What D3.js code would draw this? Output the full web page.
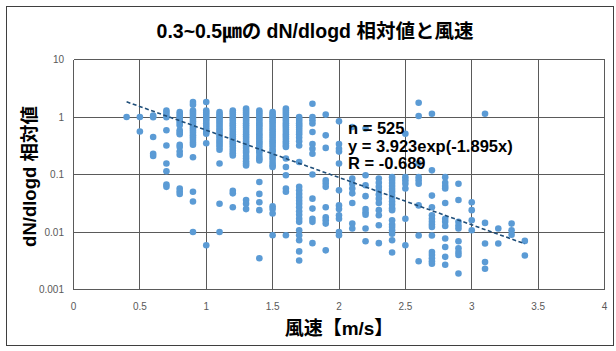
<!DOCTYPE html>
<html>
<head>
<meta charset="utf-8">
<script src="https://cdn.jsdelivr.net/npm/d3@7"></script>
<style>
  body { margin: 0; background: #fff; }
  text { font-family: "Liberation Sans", "Noto Sans CJK JP", sans-serif; }
  .grid line { stroke: #5a5a5a; stroke-width: 1; shape-rendering: crispEdges; }
  .tick-label { font-size: 10px; fill: #595959; }
</style>
</head>
<body>
<svg width="616" height="351"></svg>
<script>
// wind speed classes (m/s)
const speeds = [0.4, 0.5, 0.6, 0.7, 0.8, 0.9, 1.0, 1.1, 1.2, 1.3, 1.4, 1.5, 1.6, 1.7, 1.8, 1.9,
  2.0, 2.1, 2.2, 2.3, 2.4, 2.5, 2.6, 2.7, 2.8, 2.9, 3.0, 3.1, 3.2, 3.3, 3.4];

const relValues = [
  [1.0],
  [1.0, 0.56],
  [1.06, 0.99, 0.45, 0.23, 0.21],
  [1.3, 1.2, 1.08, 0.99, 0.59, 0.32, 0.155, 0.114, 0.067, 0.061],
  [1.22, 1.12, 1.02, 0.94, 0.86, 0.79, 0.72, 0.59, 0.54, 0.5, 0.33, 0.3, 0.25, 0.22, 0.057, 0.051, 0.046],
  [1.82, 1.64, 1.3, 1.2, 1.1, 1.0, 0.92, 0.84, 0.77, 0.7, 0.64, 0.58, 0.53, 0.48, 0.44, 0.4, 0.36, 0.33, 0.2, 0.05, 0.034, 0.01],
  [1.82, 1.3, 1.2, 1.1, 1.0, 0.92, 0.85, 0.78, 0.71, 0.65, 0.6, 0.55, 0.51, 0.35, 0.0059],
  [1.22, 1.12, 1.03, 0.95, 0.87, 0.8, 0.73, 0.67, 0.61, 0.56, 0.51, 0.47, 0.43, 0.39, 0.36, 0.33, 0.3, 0.27, 0.155, 0.031, 0.01],
  [1.3, 1.2, 1.1, 1.0, 0.92, 0.85, 0.78, 0.72, 0.66, 0.6, 0.55, 0.5, 0.46, 0.42, 0.38, 0.35, 0.32, 0.29, 0.26, 0.235, 0.215, 0.052, 0.047, 0.027],
  [1.4, 1.3, 1.2, 1.1, 1.0, 0.92, 0.85, 0.78, 0.72, 0.66, 0.6, 0.55, 0.5, 0.46, 0.42, 0.38, 0.35, 0.32, 0.29, 0.26, 0.24, 0.21, 0.19, 0.17, 0.155, 0.144, 0.036, 0.031, 0.025],
  [1.3, 1.2, 1.1, 1.0, 0.92, 0.85, 0.78, 0.72, 0.66, 0.6, 0.55, 0.5, 0.46, 0.42, 0.38, 0.35, 0.32, 0.29, 0.26, 0.24, 0.21, 0.19, 0.176, 0.074, 0.046, 0.033, 0.024, 0.0035],
  [1.22, 1.12, 1.03, 0.95, 0.87, 0.8, 0.73, 0.67, 0.61, 0.56, 0.51, 0.47, 0.43, 0.39, 0.36, 0.33, 0.3, 0.27, 0.25, 0.22, 0.2, 0.18, 0.16, 0.145, 0.135, 0.028, 0.025, 0.021, 0.0088],
  [1.4, 1.3, 1.2, 1.1, 1.0, 0.92, 0.85, 0.78, 0.72, 0.66, 0.6, 0.55, 0.5, 0.46, 0.42, 0.38, 0.35, 0.32, 0.3, 0.19, 0.135, 0.097, 0.057, 0.05, 0.0088],
  [1.0, 0.92, 0.85, 0.78, 0.72, 0.66, 0.6, 0.55, 0.5, 0.44, 0.38, 0.32, 0.165, 0.061, 0.053, 0.046, 0.04, 0.035, 0.031, 0.027, 0.023, 0.02, 0.017, 0.015, 0.0107, 0.0088, 0.0072, 0.0046, 0.0032],
  [1.7, 1.0, 0.88, 0.77, 0.55, 0.34, 0.28, 0.23, 0.1, 0.038, 0.0255, 0.017, 0.015, 0.0064],
  [1.1, 0.48, 0.29, 0.079, 0.07, 0.061, 0.027, 0.018, 0.016, 0.014, 0.0048],
  [0.84, 0.34, 0.28, 0.25, 0.155, 0.053, 0.029, 0.025, 0.0195, 0.017, 0.01, 0.0088],
  [0.67, 0.085, 0.069, 0.057, 0.047, 0.032, 0.014, 0.0115],
  [0.63, 0.097, 0.065, 0.042, 0.025, 0.022, 0.02, 0.0115, 0.0069],
  [0.085, 0.072, 0.061, 0.053, 0.045, 0.038, 0.032, 0.024, 0.0195, 0.0131, 0.0064],
  [0.09, 0.08, 0.071, 0.063, 0.056, 0.05, 0.044, 0.039, 0.034, 0.03, 0.026, 0.024, 0.016, 0.0135, 0.0122, 0.0107, 0.0093, 0.0072, 0.0044],
  [0.51, 0.09, 0.079, 0.069, 0.057, 0.017, 0.0059],
  [1.77, 1.04, 0.155, 0.09, 0.079, 0.069, 0.029, 0.0087, 0.0031],
  [1.14, 0.118, 0.043, 0.027, 0.0195, 0.017, 0.015, 0.0135, 0.0122, 0.0087, 0.0045, 0.004, 0.0035, 0.0031, 0.0028],
  [0.09, 0.072, 0.063, 0.057, 0.032, 0.017, 0.015, 0.0127, 0.0077, 0.0055, 0.0037, 0.0027],
  [0.069, 0.036, 0.015, 0.013, 0.0115, 0.0069, 0.0052, 0.0045, 0.004, 0.0019],
  [0.033, 0.024, 0.016, 0.0107],
  [1.14, 0.0144, 0.0063, 0.003, 0.0023],
  [0.0115, 0.0063],
  [0.014, 0.0107, 0.009],
  [0.007, 0.0039]
];

const xTicks = [0, 0.5, 1, 1.5, 2, 2.5, 3, 3.5, 4];
const yTicks = [0.001, 0.01, 0.1, 1, 10];
const yTickLabels = ["0.001", "0.01", "0.1", "1", "10"];

// exponential fit shown on the chart
const fitA = 3.923, fitB = -1.895;
const fitRange = [0.4, 3.4];
const statLines = ["n = 525", "y = 3.923exp(-1.895x)", "R = -0.689"];

const svg = d3.select("svg");

svg.append("rect")
    .attr("x", 6.5).attr("y", 6.5)
    .attr("width", 607).attr("height", 339)
    .attr("fill", "#fff").attr("stroke", "#3f3f3f").attr("stroke-width", 1);

const x = d3.scaleLinear().domain([0, 4]).range([73.5, 604.5]);
const y = d3.scaleLog().domain([0.001, 10]).range([289.5, 59.5]);

// grid
const grid = svg.append("g").attr("class", "grid");
grid.selectAll(".v").data(xTicks).enter().append("line")
    .attr("x1", d => x(d)).attr("x2", d => x(d))
    .attr("y1", y(10)).attr("y2", y(0.001));
grid.selectAll(".h").data(yTicks).enter().append("line")
    .attr("x1", x(0)).attr("x2", x(4))
    .attr("y1", d => y(d)).attr("y2", d => y(d));

// tick labels
svg.selectAll(".xl").data(xTicks).enter().append("text")
    .attr("class", "tick-label")
    .attr("x", d => x(d)).attr("y", 310)
    .attr("text-anchor", "middle")
    .text(d => d);
svg.selectAll(".yl").data(yTicks).enter().append("text")
    .attr("class", "tick-label")
    .attr("x", 64).attr("y", d => y(d) + 3.5)
    .attr("text-anchor", "end")
    .text((d, i) => yTickLabels[i]);

// points
const points = [];
speeds.forEach((s, i) => relValues[i].forEach(v => points.push({s: s, v: v})));
svg.append("g").selectAll("circle").data(points).enter().append("circle")
    .attr("cx", d => x(d.s)).attr("cy", d => y(d.v))
    .attr("r", 3.3)
    .attr("fill", "#5b9bd5");

// trend line
const line = d3.line().x(d => x(d)).y(d => y(fitA * Math.exp(fitB * d)));
svg.append("path")
    .datum(fitRange)
    .attr("d", line)
    .attr("fill", "none")
    .attr("stroke", "#1f4e79")
    .attr("stroke-width", 1.6)
    .attr("stroke-dasharray", "4,2.5");

// fit statistics
svg.selectAll(".stat").data(statLines).enter().append("text")
    .attr("x", 348).attr("y", (d, i) => 134 + i * 17.5)
    .attr("font-size", 16.5).attr("font-weight", "bold")
    .attr("fill", "#000")
    .text(d => d);

// titles
svg.append("text")
    .attr("x", 315).attr("y", 38)
    .attr("text-anchor", "middle")
    .attr("font-size", 19.5).attr("font-weight", "bold")
    .attr("fill", "#000")
    .text("0.3~0.5㎛の dN/dlogd 相対値と風速");

svg.append("text")
    .attr("x", x(2)).attr("y", 335)
    .attr("text-anchor", "middle")
    .attr("font-size", 19).attr("font-weight", "bold")
    .attr("fill", "#000")
    .text("風速【m/s】");

svg.append("text")
    .attr("transform", "translate(36," + (y(0.1) + 2) + ") rotate(-90)")
    .attr("text-anchor", "middle")
    .attr("font-size", 18.5).attr("font-weight", "bold")
    .attr("fill", "#000")
    .text("dN/dlogd 相対値");
</script>
</body>
</html>
